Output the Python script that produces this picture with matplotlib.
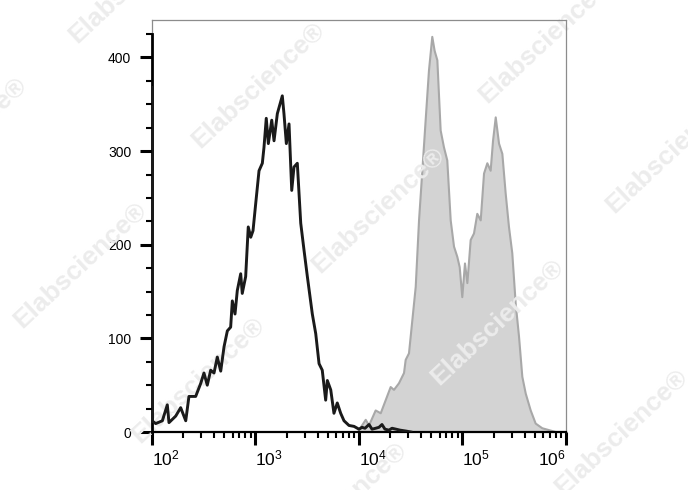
import matplotlib
matplotlib.use('Agg')
import matplotlib.pyplot as plt
import numpy as np

plt.rcParams['font.family'] = ['Liberation Sans', 'DejaVu Sans']
plt.rcParams['mathtext.fontset'] = 'custom'
plt.rcParams['mathtext.rm'] = 'Liberation Sans'

# control (isotype) histogram: log10 intensity, counts
ctrl_log = [2.000, 2.000, 2.036, 2.100, 2.148, 2.164, 2.229, 2.277, 2.326, 2.357,
            2.422, 2.471, 2.502, 2.534, 2.567, 2.599, 2.631, 2.664, 2.696, 2.728,
            2.760, 2.776, 2.802, 2.824, 2.857, 2.872, 2.905, 2.930, 2.954, 2.976,
            3.002, 3.034, 3.066, 3.082, 3.104, 3.124, 3.157, 3.179, 3.211, 3.259,
            3.275, 3.298, 3.324, 3.350, 3.372, 3.404, 3.437, 3.469, 3.501, 3.549,
            3.582, 3.614, 3.645, 3.678, 3.694, 3.727, 3.758, 3.790, 3.823, 3.855,
            3.884, 3.903, 3.952, 4.000, 4.029, 4.058, 4.097, 4.126, 4.161, 4.193,
            4.222, 4.251, 4.290, 4.319, 4.358, 4.396, 4.454, 4.502]
ctrl_cnt = [368, 12, 9, 12, 29, 10, 17, 26, 12, 38,
            38, 52, 63, 50, 66, 63, 80, 65, 91, 108,
            112, 140, 126, 151, 169, 148, 166, 219, 208, 215,
            244, 279, 287, 304, 335, 308, 333, 311, 340, 359,
            340, 308, 329, 258, 283, 287, 223, 194, 166, 126,
            105, 73, 66, 34, 55, 45, 20, 31, 20, 12,
            9, 7, 6, 3, 5, 4, 8, 3, 4, 5,
            8, 3, 2, 4, 3, 2, 1, 0]

# stained sample histogram
samp_log = [4.000, 4.065, 4.097, 4.161, 4.210, 4.258, 4.306, 4.338, 4.386, 4.435,
            4.451, 4.483, 4.515, 4.548, 4.580, 4.612, 4.644, 4.676, 4.708, 4.731,
            4.757, 4.789, 4.821, 4.853, 4.886, 4.918, 4.950, 4.973, 4.998, 5.024,
            5.047, 5.079, 5.111, 5.143, 5.176, 5.208, 5.240, 5.272, 5.295, 5.321,
            5.353, 5.385, 5.417, 5.449, 5.481, 5.514, 5.546, 5.578, 5.611, 5.659,
            5.707, 5.771, 5.836, 5.901, 5.997]
samp_cnt = [2, 13, 7, 23, 20, 34, 48, 45, 52, 63,
            77, 84, 119, 155, 226, 279, 333, 386, 422, 407,
            397, 322, 304, 290, 226, 198, 187, 176, 144, 180,
            159, 205, 212, 233, 226, 276, 287, 279, 311, 336,
            308, 297, 255, 219, 191, 137, 102, 59, 41, 23,
            9, 4, 2, 0, 0]

xtick_exp = [2, 3, 4, 5, 6]
yticks = [0, 100, 200, 300, 400]

watermark = 'Elabscience®'
wm_centers = [(258, 85), (545, 40), (135, -20), (-40, 140), (672, 150),
              (378, 210), (80, 265), (198, 380), (497, 322), (621, 432), (340, 505)]

fig = plt.figure(figsize=(6.88, 4.90), dpi=100)
ax = fig.add_axes([152/688, 1-432/490, (566-152)/688, (432-20)/490])

ax.fill_between(10**np.array(samp_log), samp_cnt, 0, facecolor='#d3d3d3',
                edgecolor='none', zorder=1)
ax.plot(10**np.array(samp_log), samp_cnt, color='#a8a8a8', lw=1.5, zorder=1.2)
ax.plot(10**np.array(ctrl_log), ctrl_cnt, color='#1a1a1a', lw=2.1, zorder=3)

for (px, py) in wm_centers:
    ax.text(px/688, 1-py/490, watermark, transform=fig.transFigure, rotation=43,
            ha='center', va='center', fontsize=19, fontweight='bold',
            color='#ececec', zorder=2, clip_on=False)

ax.set_xscale('log')
ax.set_xlim(1e2, 1e6)
ax.set_ylim(0, 440)

ax.set_xticks([10**e for e in xtick_exp])
ax.set_xticklabels([r'$\mathregular{10^{%d}}$' % e for e in xtick_exp], fontsize=12.5)
for lab in ax.get_xticklabels()[:-1]:
    lab.set_horizontalalignment('left')
ax.get_xticklabels()[-1].set_horizontalalignment('right')
minor = [m * 10**e for e in range(2, 6) for m in range(2, 10)]
ax.set_xticks(minor, minor=True)
ax.xaxis.set_minor_formatter(matplotlib.ticker.NullFormatter())

ax.set_yticks(yticks)
ax.set_yticklabels([str(v) for v in yticks], fontsize=10)
ax.set_yticks([25, 50, 75, 125, 150, 175, 225, 250, 275, 325, 350, 375, 425], minor=True)

ax.tick_params(which='major', length=9, width=2.2, color='black', pad=6)
ax.tick_params(axis='x', which='major', pad=3)
ax.tick_params(which='minor', length=4, width=1.5, color='black')

for s in ['top', 'right']:
    ax.spines[s].set_color('#8c8c8c')
    ax.spines[s].set_linewidth(0.9)
ax.spines['left'].set_linewidth(2)
ax.spines['left'].set_bounds(0, 425)
ax.spines['bottom'].set_linewidth(1.6)
ax.plot([1e2, 1e2], [425, 440], color='#8c8c8c', lw=0.9, clip_on=False)

plt.savefig('out.png', dpi=100)
